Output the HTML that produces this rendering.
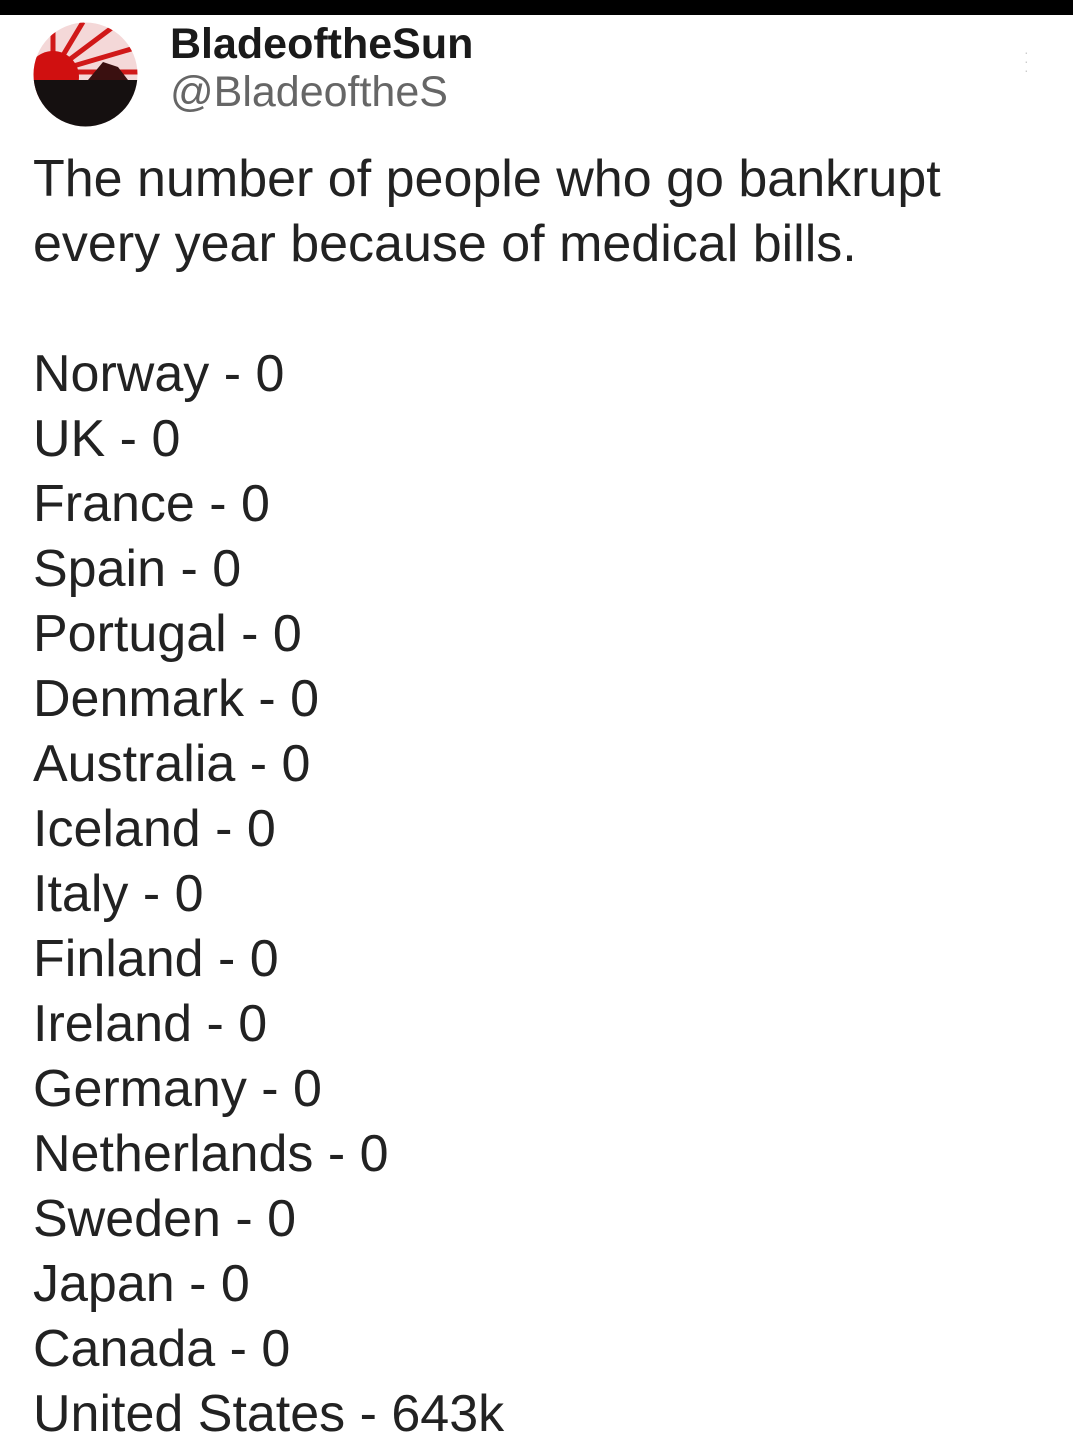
<!DOCTYPE html>
<html><head><meta charset="utf-8"><style>
body{margin:0;width:1073px;height:1452px;background:#fff;position:relative;overflow:hidden;font-family:"Liberation Sans",sans-serif;color:#222}
.t{position:absolute;left:33px;white-space:nowrap;font-size:52px;line-height:65px}
</style></head><body>
<div style="position:absolute;left:0;top:0;width:1073px;height:15px;background:#000"></div>
<svg style="position:absolute;left:33px;top:22px" width="105" height="105" viewBox="0 0 105 105">
<defs><clipPath id="c"><circle cx="52.5" cy="52.5" r="52"/></clipPath></defs>
<g clip-path="url(#c)"><rect width="105" height="105" fill="#f4d8d8"/>
<g stroke="#d01818" stroke-width="5"><line x1="20" y1="50" x2="20" y2="0"/><line x1="20" y1="50" x2="50" y2="0"/><line x1="20" y1="50" x2="80" y2="5"/><line x1="20" y1="50" x2="105" y2="25"/><line x1="20" y1="50" x2="105" y2="50"/></g>
<circle cx="20" cy="55" r="26" fill="#d01010"/>
<rect y="58" width="105" height="47" fill="#151010"/>
<path d="M55 58 L70 40 L85 45 L95 58Z" fill="#3a1010"/></g></svg>
<div style="position:absolute;left:170px;top:20px;font-size:43px;font-weight:bold;color:#1a1a1a;white-space:nowrap">BladeoftheSun</div>
<div style="position:absolute;left:170px;top:68px;font-size:43px;color:#666;white-space:nowrap">@BladeoftheS</div>
<div style="position:absolute;left:1024px;top:48px;width:5px;height:30px;color:#ccc;font-size:14px;line-height:9px">·<br>·<br>·</div>
<div class="t" style="top:147px">The number of people who go bankrupt</div>
<div class="t" style="top:212px">every year because of medical bills.</div>
<div id="list"></div>
<script>
const countries=["Norway","UK","France","Spain","Portugal","Denmark","Australia","Iceland","Italy","Finland","Ireland","Germany","Netherlands","Sweden","Japan","Canada","United States"];
const values=["0","0","0","0","0","0","0","0","0","0","0","0","0","0","0","0","643k"];
const list=document.getElementById('list');
countries.forEach((c,i)=>{
  const d=document.createElement('div');
  d.className='t';
  d.style.top=(342+65*i)+'px';
  d.textContent=c+' - '+values[i];
  
  
  list.appendChild(d);
});
</script>
</body></html>
